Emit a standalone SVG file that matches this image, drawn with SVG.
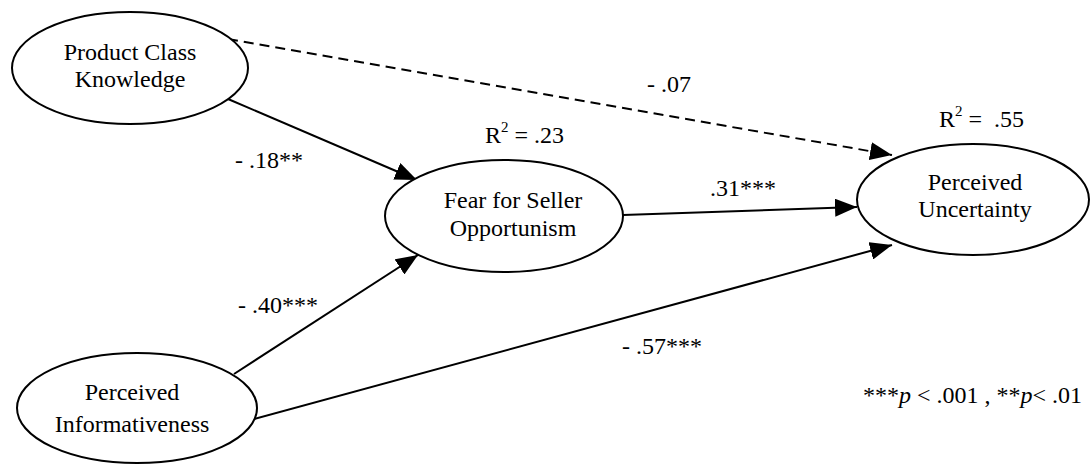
<svg xmlns="http://www.w3.org/2000/svg" width="1091" height="464" viewBox="0 0 1091 464">
<defs>
<style>
.node ellipse{fill:#fff;stroke:#000;stroke-width:2}
text{font-family:"Liberation Serif","Times New Roman",serif;font-size:24px;fill:#000}
.c{text-anchor:middle}
.edge{stroke:#000;stroke-width:2;fill:none;marker-end:url(#ah)}
.dash{stroke-dasharray:10 6}
.sup{font-size:15px}
</style>
<marker id="ah" markerWidth="22" markerHeight="18" refX="22" refY="9" orient="auto" markerUnits="userSpaceOnUse">
<path d="M0,0 L22,9 L0,18 z" fill="#000"/>
</marker>
</defs>
<rect width="1091" height="464" fill="#fff"/>
<g id="connectors">
<line class="edge dash" x1="228" y1="39" x2="892" y2="155"/>
<line class="edge" x1="228" y1="99" x2="417" y2="180"/>
<line class="edge" x1="623" y1="215" x2="857" y2="207"/>
<line class="edge" x1="234" y1="374" x2="418" y2="255"/>
<line class="edge" x1="254" y1="419" x2="892" y2="245"/>
</g>
<g id="node-pck" class="node">
<ellipse cx="130" cy="68" rx="118" ry="56"/>
<text class="c" x="130" y="60">Product Class</text>
<text class="c" x="130" y="87">Knowledge</text>
</g>
<g id="node-fear" class="node">
<ellipse cx="504" cy="216" rx="119" ry="56"/>
<text class="c" x="513" y="208">Fear for Seller</text>
<text class="c" x="513" y="236">Opportunism</text>
</g>
<g id="node-pu" class="node">
<ellipse cx="973" cy="199.5" rx="116" ry="55.5"/>
<text class="c" x="975" y="190">Perceived</text>
<text class="c" x="975" y="217">Uncertainty</text>
</g>
<g id="node-pi" class="node">
<ellipse cx="137" cy="408" rx="120" ry="55"/>
<text class="c" x="132" y="400">Perceived</text>
<text class="c" x="132" y="432">Informativeness</text>
</g>
<g id="labels">
<text x="485" y="143">R<tspan class="sup" dy="-11">2</tspan><tspan dy="11"> = .23</tspan></text>
<text x="939" y="127" xml:space="preserve">R<tspan class="sup" dy="-11">2</tspan><tspan dy="11"> =  .55</tspan></text>
<text x="647" y="92">- .07</text>
<text x="710" y="196">.31***</text>
<text x="235" y="168">- .18**</text>
<text x="238" y="313">- .40***</text>
<text x="622" y="354">- .57***</text>
<text x="863" y="403">***<tspan font-style="italic">p</tspan> &lt; .001 , **<tspan font-style="italic">p</tspan>&lt; .01</text>
</g>
</svg>
